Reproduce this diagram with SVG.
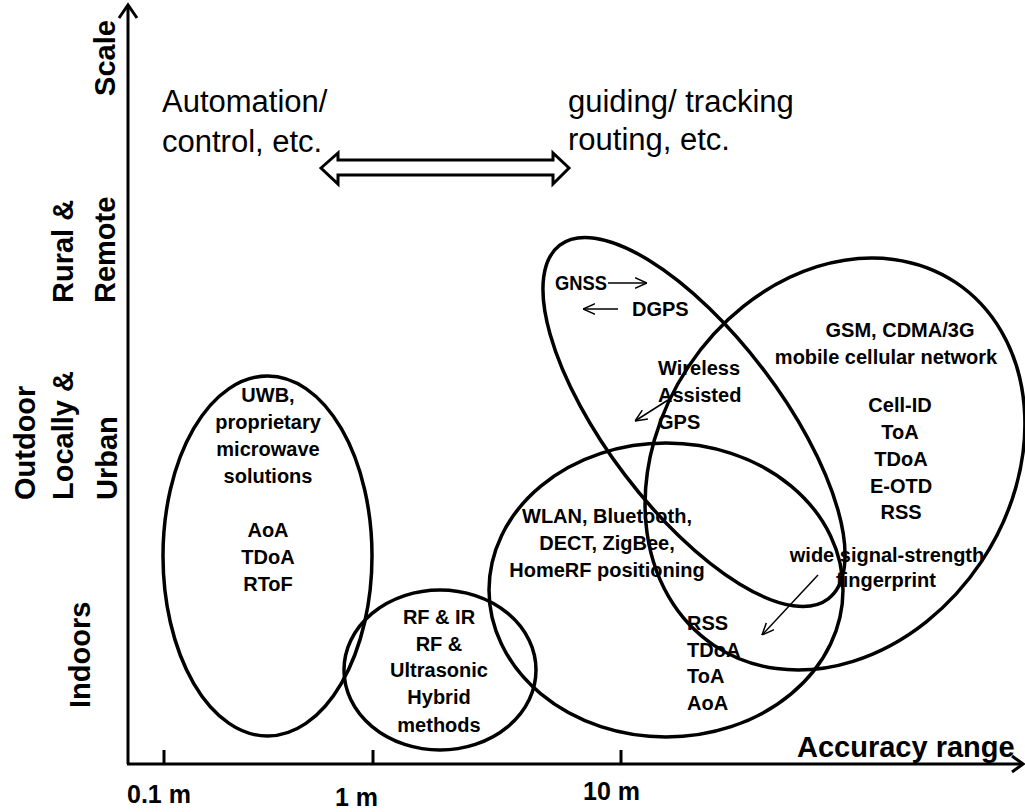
<svg xmlns="http://www.w3.org/2000/svg" width="1025" height="812" viewBox="0 0 1025 812">
<style>
.b{font-family:"Liberation Sans",Arial,sans-serif;font-weight:bold;font-size:20px;fill:#000}
.m{text-anchor:middle}
.ax{font-family:"Liberation Sans",Arial,sans-serif;font-weight:bold;font-size:29px;fill:#000}
.r{font-family:"Liberation Sans",Arial,sans-serif;font-size:31px;fill:#000}
.t{font-family:"Liberation Sans",Arial,sans-serif;font-weight:bold;font-size:25px;fill:#000}
.e{fill:none;stroke:#000;stroke-width:3.5}
.axis{stroke:#000;stroke-width:3;fill:none}
.thin{stroke:#000;stroke-width:1.5;fill:none}
</style>
<defs>
<marker id="ah" viewBox="0 0 12 12" refX="12" refY="6" markerWidth="12" markerHeight="12" markerUnits="userSpaceOnUse" orient="auto">
<path d="M0,0.8 L12,6 L0,11.2" fill="none" stroke="#000" stroke-width="1.5"/>
</marker>
</defs>
<rect width="1025" height="812" fill="#fff"/>
<g id="axes">
<path class="axis" d="M128,764 V6"/>
<path class="axis" d="M119,18 L128,5 L137,18"/>
<path class="axis" d="M127,764 H1021"/>
<path class="axis" d="M1012,756 L1023,764 L1012,772"/>
<path class="axis" d="M164,750 V764 M373,750 V764 M621,750 V764"/>
<text class="t" x="127" y="803">0.1 m</text>
<text class="t" x="335" y="806">1 m</text>
<text class="t" x="583" y="800">10 m</text>
<text class="ax" x="797" y="757" font-size="28">Accuracy range</text>
<text class="ax m" transform="translate(115,58) rotate(-90)">Scale</text>
<text class="ax" transform="translate(73,303) rotate(-90)">Rural &amp;</text>
<text class="ax" transform="translate(115,303) rotate(-90)">Remote</text>
<text class="ax" transform="translate(35,500) rotate(-90)">Outdoor</text>
<text class="ax" transform="translate(73,500) rotate(-90)">Locally &amp;</text>
<text class="ax" transform="translate(117,500) rotate(-90)">Urban</text>
<text class="ax" transform="translate(90,708) rotate(-90)">Indoors</text>
</g>
<g id="automation">
<text class="r" x="162" y="112">Automation/</text>
<text class="r" x="162" y="152">control, etc.</text>
</g>
<g id="guiding">
<text class="r" x="568" y="112">guiding/ tracking</text>
<text class="r" x="568" y="150">routing, etc.</text>
</g>
<g id="uwb">
<ellipse class="e" cx="267.5" cy="556" rx="104.5" ry="180"/>
<text class="b m" x="268" y="402">UWB,</text>
<text class="b m" x="268" y="429">proprietary</text>
<text class="b m" x="268" y="456">microwave</text>
<text class="b m" x="268" y="483">solutions</text>
<text class="b m" x="268" y="537">AoA</text>
<text class="b m" x="268" y="564">TDoA</text>
<text class="b m" x="268" y="591">RToF</text>
</g>
<g id="rfir">
<ellipse class="e" cx="440" cy="670" rx="96" ry="80"/>
<text class="b m" x="439" y="624">RF &amp; IR</text>
<text class="b m" x="439" y="651">RF &amp;</text>
<text class="b m" x="439" y="677">Ultrasonic</text>
<text class="b m" x="439" y="704">Hybrid</text>
<text class="b m" x="439" y="732">methods</text>
</g>
<g id="wlan">
<ellipse class="e" cx="666" cy="590" rx="177" ry="147"/>
<text class="b m" x="607" y="523">WLAN, Bluetooth,</text>
<text class="b m" x="607" y="550">DECT, ZigBee,</text>
<text class="b m" x="607" y="577">HomeRF positioning</text>
<text class="b" x="687" y="630">RSS</text>
<text class="b" x="687" y="657">TDoA</text>
<text class="b" x="687" y="683">ToA</text>
<text class="b" x="687" y="710">AoA</text>
</g>
<g id="gnss">
<ellipse class="e" cx="694" cy="422" rx="222" ry="87" transform="rotate(52.8 694 422)"/>
<text class="b" x="555" y="290" textLength="52" lengthAdjust="spacingAndGlyphs">GNSS</text>
<text class="b" x="632" y="316">DGPS</text>
<text class="b" x="658" y="375">Wireless</text>
<text class="b" x="658" y="402">Assisted</text>
<text class="b" x="658" y="429">GPS</text>
</g>
<g id="gsm">
<ellipse class="e" cx="835" cy="464" rx="218" ry="176" transform="rotate(-56.3 835 464)"/>
<text class="b m" x="900" y="337">GSM, CDMA/3G</text>
<text class="b m" x="886" y="364">mobile cellular network</text>
<text class="b m" x="900" y="412">Cell-ID</text>
<text class="b m" x="900" y="439">ToA</text>
<text class="b m" x="901" y="466">TDoA</text>
<text class="b m" x="901" y="493">E-OTD</text>
<text class="b m" x="901" y="519">RSS</text>
<text class="b m" x="887" y="562">wide signal-strength</text>
<text class="b m" x="886" y="587">fingerprint</text>
</g>
<g id="connectors">
<polygon points="321,168 338,153 338,160 553,160 553,153 569,168 553,184 553,175 338,175 338,184" fill="#fff" stroke="#000" stroke-width="3"/>
<line class="thin" x1="608" y1="283" x2="647" y2="283" marker-end="url(#ah)"/>
<line class="thin" x1="618" y1="309" x2="583" y2="309" marker-end="url(#ah)"/>
<line class="thin" x1="668" y1="400" x2="635" y2="421" marker-end="url(#ah)"/>
<line class="thin" x1="818" y1="575" x2="762" y2="635" marker-end="url(#ah)"/>
</g>
</svg>
